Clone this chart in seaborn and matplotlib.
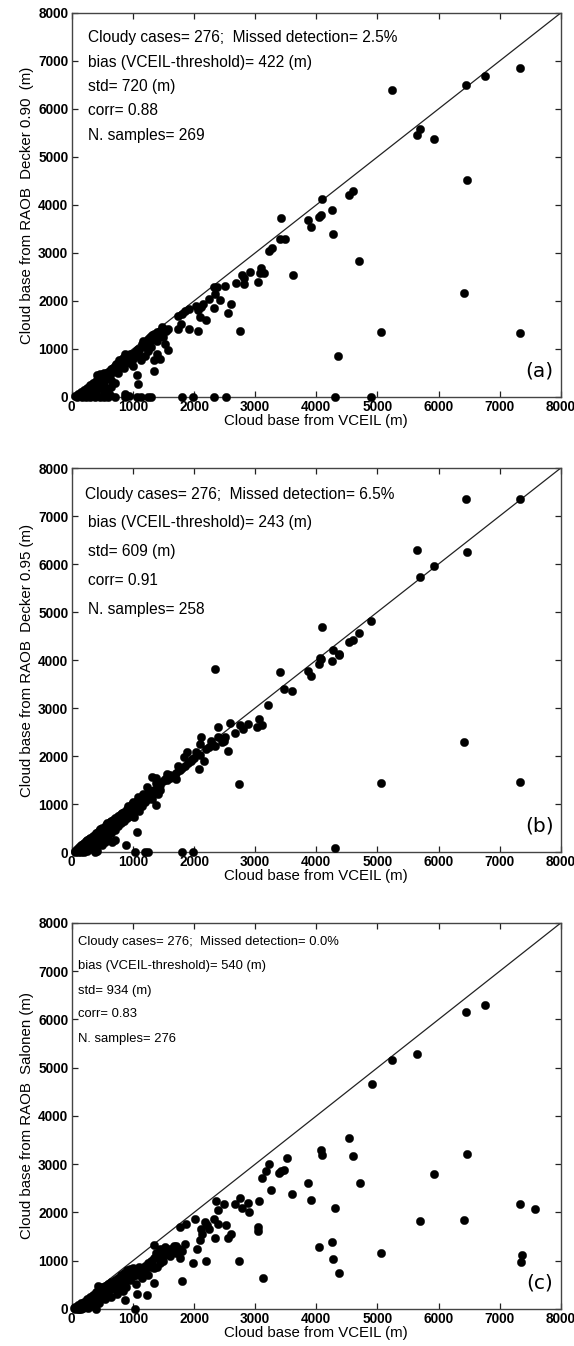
import matplotlib
matplotlib.use("Agg")
import matplotlib.pyplot as plt
import seaborn as sns
import pandas as pd

# ---------------- data ----------------
# Panel (a): VCEIL vs RAOB Decker 0.90
a_x = [5240, 6450, 6760, 7340, 5640, 5700, 5920, 6470, 4090, 4530, 4600, 3420, 3860, 4040, 4080, 4250,
       3920, 4280, 3400, 3490, 3230, 3270, 3620, 3080, 3090, 3150, 3050, 2920, 2780, 2810, 2820, 2690,
       2510, 2370, 2330, 2350, 2420, 2250, 2330, 2610, 2560, 2760, 2200, 2100, 2110, 2140, 2040, 2070,
       1910, 1850, 1800, 1740, 1780, 1740, 1920, 2070, 1580, 1540, 1470, 1440, 1360, 1390, 1500, 1530,
       1580, 1390, 1340, 1440, 1350, 1170, 1200, 1120, 1140, 1060, 1090, 1000, 940, 870, 850, 790,
       750, 710, 680, 630, 570, 520, 460, 440, 410, 380, 330, 270, 220, 140, 50, 570, 630, 870, 930,
       4700, 4360, 5060, 6420, 7340,
       1060, 1140, 1240, 1300, 1800, 1990, 2320, 2530, 4300, 4900, 90, 160, 230, 300, 380, 460, 520, 600, 700, 870,
       100, 150, 200, 250, 300, 350, 400, 420, 450, 480, 500, 520, 550, 560, 600, 620, 650, 680, 700, 720,
       750, 780, 800, 820, 850, 880, 900, 950, 980, 1020, 1050, 1080, 1100, 1150, 1200, 1220, 1250, 1280, 1300, 1320,
       1350, 1400, 1420, 1450, 1480, 1300, 1250, 1200, 1000, 900, 800, 700, 600, 500, 400, 300, 200, 350, 450, 550,
       650, 750, 850, 950, 1100, 1000, 400, 480, 250, 330, 600, 700, 520, 650]
a_y = [6400, 6500, 6680, 6850, 5460, 5590, 5380, 4510, 4130, 4210, 4300, 3730, 3690, 3750, 3800, 3900,
       3530, 3390, 3300, 3280, 3050, 3100, 2550, 2590, 2680, 2590, 2400, 2600, 2530, 2480, 2350, 2380,
       2320, 2290, 2280, 2140, 2010, 2030, 1860, 1930, 1740, 1380, 1600, 1660, 1880, 1930, 1900, 1810,
       1830, 1790, 1730, 1690, 1520, 1420, 1420, 1380, 1420, 1370, 1450, 1310, 1240, 1170, 1240, 1100,
       970, 900, 760, 790, 540, 1170, 1040, 830, 760, 450, 260, 900, 860, 900, 830, 720,
       650, 590, 520, 480, 410, 350, 480, 380, 280, 210, 140, 80, 50, 30, 10, 70, 30, 70, 10,
       2840, 860, 1350, 2160, 1340,
       0, 0, 0, 0, 0, 0, 0, 0, 0, 0, 0, 0, 0, 0, 0, 0, 0, 0, 0, 0,
       60, 100, 150, 180, 250, 300, 330, 450, 420, 400, 450, 500, 350, 480, 520, 550, 580, 600, 650, 680,
       700, 760, 700, 780, 800, 850, 880, 900, 870, 920, 960, 1000, 980, 1100, 1150, 1100, 1200, 1250, 1180, 1300,
       1320, 1350, 1300, 1380, 1400, 1050, 950, 850, 800, 750, 650, 550, 400, 300, 200, 150, 80, 120, 250, 200,
       350, 500, 600, 700, 850, 650, 100, 180, 30, 60, 150, 300, 100, 200]

# Panel (b): VCEIL vs RAOB Decker 0.95
b_x = [6450, 7340, 5640, 6470, 5700, 5920, 4900, 4090, 4530, 4600, 4700, 4270, 4370, 4080, 4040, 4250,
       2340, 3410, 3860, 3480, 3600, 3920, 4060, 4370, 3210, 3070, 3110, 3030, 2880, 2760, 2800, 2670,
       2590, 2400, 2400, 2490, 2550, 2280, 2250, 2120, 2090, 2160, 2040, 1960, 2080, 1890, 1830, 1740,
       1770, 1710, 1560, 1530, 1380, 1320, 1310, 1380, 1410, 1230, 1170, 1080, 1050, 1070, 1020,
       2730, 5060, 6420, 7340, 4300,
       1040, 1200, 1240, 1810, 1990,
       50, 80, 120, 150, 180, 200, 230, 250, 280, 300, 320, 350, 380, 400, 420, 450, 470, 500, 520, 540,
       560, 580, 600, 620, 650, 680, 700, 720, 750, 780, 800, 830, 860, 900, 920, 950, 980, 1000, 1050, 1080,
       1100, 1150, 1200, 1250, 1300, 1350, 1380, 1450, 1500, 1550, 1600, 1650,
       300, 350, 400, 450, 500, 550, 600, 650, 700, 750, 800, 850, 900, 950, 1000, 1050, 1100, 1150, 1200, 1250,
       200, 250, 150, 100, 400, 450, 500, 350, 300, 250, 200, 100, 50, 150, 380, 420, 600, 700, 660, 880,
       500, 550, 600, 650, 700, 750, 800, 850, 900, 950, 1000, 1100, 1150, 1250, 1350, 1400, 1450, 1300, 1200,
       1600, 1700, 1800, 1900, 2000, 2100, 2200, 2300, 2350, 2450, 2500, 1850, 1750, 1950]
b_y = [7350, 7360, 6300, 6240, 5720, 5950, 4820, 4690, 4370, 4420, 4560, 4200, 4110, 4030, 3920, 3980,
       3810, 3750, 3780, 3400, 3350, 3670, 4050, 4120, 3060, 2770, 2650, 2610, 2660, 2650, 2570, 2480,
       2680, 2600, 2390, 2320, 2110, 2320, 2180, 2400, 2240, 1900, 2080, 1940, 1720, 2080, 1970, 1800,
       1710, 1520, 1630, 1520, 1430, 1560, 1110, 970, 1200, 1350, 1210, 1140, 1000, 415, 730,
       1420, 1440, 2300, 1460, 80,
       0, 0, 0, 0, 0,
       30, 60, 100, 140, 170, 190, 220, 260, 270, 300, 280, 340, 360, 400, 390, 440, 480, 500, 490, 520,
       560, 600, 580, 620, 640, 660, 700, 680, 740, 760, 790, 810, 840, 900, 960, 930, 990, 1050, 1040, 1070,
       1100, 1120, 1180, 1230, 1280, 1300, 1550, 1400, 1480, 1500, 1600, 1580,
       200, 250, 300, 350, 400, 430, 480, 520, 600, 650, 700, 750, 800, 850, 900, 950, 1000, 950, 1050, 1100,
       100, 150, 50, 30, 150, 250, 300, 100, 60, 20, 10, 0, 0, 0, 0, 30, 350, 250, 210, 150,
       150, 200, 250, 400, 450, 550, 600, 650, 700, 750, 800, 850, 1050, 1150, 1250, 1330, 1300, 1200, 1100,
       1550, 1650, 1750, 1850, 1950, 2030, 2150, 2250, 2200, 2300, 2400, 1800, 1700, 1900]

# Panel (c): VCEIL vs RAOB Salonen
c_x = [6450, 6760, 5640, 5240, 4910, 4540, 4080, 4090, 4600, 6470, 4710, 5920, 3860, 3920, 3600, 3520,
       3420, 3470, 3390, 3220, 3180, 3120, 3260, 3060, 3050, 3040, 3130, 4300, 5690, 6420, 7340, 7570,
       7350, 7370, 5060, 4040, 4250, 4270, 4370,
       2760, 2790, 2880, 2900, 2670, 2490, 2360, 2400, 2330, 2400, 2220, 2250, 2180, 2110, 2130, 2090,
       2050, 2010, 2340, 2520, 2550, 2600, 2740, 2190, 1980, 1810, 1870, 1770, 1740, 1770, 1670, 1530,
       1560, 1440, 1470, 1350, 1380, 1320, 1340, 1390, 1230, 1050, 1060, 1030, 870,
       30, 60, 80, 100, 120, 150, 170, 200, 220, 250, 280, 300, 320, 350, 370, 400, 420, 430, 450, 470,
       500, 520, 550, 580, 600, 620, 650, 680, 700, 720, 750, 780, 800, 820, 850, 880, 900, 920, 950, 980,
       1000, 1030, 1060, 1100, 1150, 1200, 1250, 1280, 1300, 1350, 1400, 1450, 1500, 1550, 1600, 1650, 1700,
       1750, 1800, 1850,
       200, 300, 400, 500, 600, 700, 800, 900, 1000, 1100, 1200, 150, 250, 350, 450, 550, 650, 750, 850, 950,
       1050, 400, 600, 800, 1250, 1150, 960, 880, 100, 50, 120, 180, 260, 340, 440, 540, 640, 740, 840,
       1350, 1450, 1500, 1600, 1700]
c_y = [6150, 6310, 5290, 5150, 4670, 3550, 3290, 3200, 3170, 3210, 2620, 2790, 2620, 2260, 2380, 3130,
       2850, 2880, 2810, 3010, 2850, 2720, 2460, 2240, 1700, 1620, 650, 2100, 1830, 1850, 2170, 2070,
       980, 1120, 1170, 1280, 1380, 1030, 750,
       2310, 2100, 2190, 2000, 2170, 2170, 2240, 2050, 1860, 1760, 1750, 1660, 1810, 1660, 1550, 1420,
       1240, 1860, 1470, 1750, 1480, 1550, 1000, 1000, 950, 570, 1760, 1690, 1240, 1060, 1310, 1280,
       1140, 1240, 1070, 1320, 1170, 1000, 530, 860, 290, 520, 320, 0, 190,
       20, 50, 30, 80, 60, 120, 100, 150, 120, 200, 180, 250, 220, 300, 260, 350, 300, 480, 400, 350,
       450, 400, 480, 430, 520, 470, 560, 500, 600, 550, 640, 580, 700, 650, 750, 700, 800, 750, 820, 780,
       850, 800, 760, 870, 820, 900, 950, 880, 1000, 1050, 1100, 1150, 1200, 1180, 1250, 1220, 1300,
       1250, 1200, 1350,
       60, 120, 200, 300, 380, 450, 520, 600, 680, 720, 780, 0, 80, 150, 250, 320, 420, 480, 560, 650,
       700, 0, 300, 420, 700, 650, 600, 450, 0, 0, 0, 30, 20, 60, 130, 200, 250, 320, 380,
       850, 950, 1000, 1100, 1150]

diag = [0, 8000]
ticks = [0, 1000, 2000, 3000, 4000, 5000, 6000, 7000, 8000]

panels = [
    dict(x=a_x, y=a_y, ylabel="Cloud base from RAOB  Decker 0.90  (m)", letter="(a)",
         lines=["Cloudy cases= 276;  Missed detection= 2.5%", "bias (VCEIL-threshold)= 422 (m)",
                "std= 720 (m)", "corr= 0.88", "N. samples= 269"],
         tx=[270, 270, 270, 270, 270], ty=[7480, 6970, 6470, 5960, 5450], fs=11.2),
    dict(x=b_x, y=b_y, ylabel="Cloud base from RAOB  Decker 0.95 (m)", letter="(b)",
         lines=["Cloudy cases= 276;  Missed detection= 6.5%", "bias (VCEIL-threshold)= 243 (m)",
                "std= 609 (m)", "corr= 0.91", "N. samples= 258"],
         tx=[210, 258, 258, 258, 258], ty=[7450, 6860, 6260, 5650, 5060], fs=11.2),
    dict(x=c_x, y=c_y, ylabel="Cloud base from RAOB  Salonen (m)", letter="(c)",
         lines=["Cloudy cases= 276;  Missed detection= 0.0%", "bias (VCEIL-threshold)= 540 (m)",
                "std= 934 (m)", "corr= 0.83", "N. samples= 276"],
         tx=[108, 108, 108, 108, 108], ty=[7615, 7100, 6600, 6110, 5585], fs=9.4),
]

sns.set_theme(style="white")
plt.rcParams["font.family"] = ["Liberation Sans", "DejaVu Sans"]

fig = plt.figure(figsize=(5.74, 13.46), dpi=100)
rects = [[0.125, 0.7051, 0.852, 0.2853],
         [0.125, 0.3670, 0.852, 0.2853],
         [0.125, 0.0275, 0.852, 0.2868]]

for rect, p in zip(rects, panels):
    ax = fig.add_axes(rect)
    df = pd.DataFrame({"vceil": p["x"], "raob": p["y"]})
    sns.lineplot(x=diag, y=diag, ax=ax, color="#222222", linewidth=0.9)
    sns.scatterplot(data=df, x="vceil", y="raob", ax=ax, color="black", s=36,
                    edgecolor="black", linewidth=0.3, zorder=3, clip_on=False)
    ax.set_xlim(0, 8000)
    ax.set_ylim(0, 8000)
    ax.set_xticks(ticks)
    ax.set_yticks(ticks)
    ax.tick_params(direction="in", length=4, width=0.9, top=True, right=True,
                   bottom=True, left=True, labelsize=9.8, pad=2.5, colors="#222222")
    for lab in ax.get_xticklabels() + ax.get_yticklabels():
        lab.set_fontweight("bold")
        lab.set_color("black")
    for sp in ax.spines.values():
        sp.set_color("#444444")
        sp.set_linewidth(1.0)
    ax.set_xlabel("Cloud base from VCEIL (m)", fontsize=10.8, labelpad=0, color="black")
    ax.set_ylabel(p["ylabel"], fontsize=10.8, labelpad=3, color="black")
    for t, xx, yy in zip(p["lines"], p["tx"], p["ty"]):
        ax.text(xx, yy, t, fontsize=p["fs"], color="black", va="center", ha="left")
    ax.text(7880, 540, p["letter"], fontsize=14.5, family="DejaVu Sans",
            ha="right", va="center", color="black")

fig.savefig("out.png", dpi=100)
